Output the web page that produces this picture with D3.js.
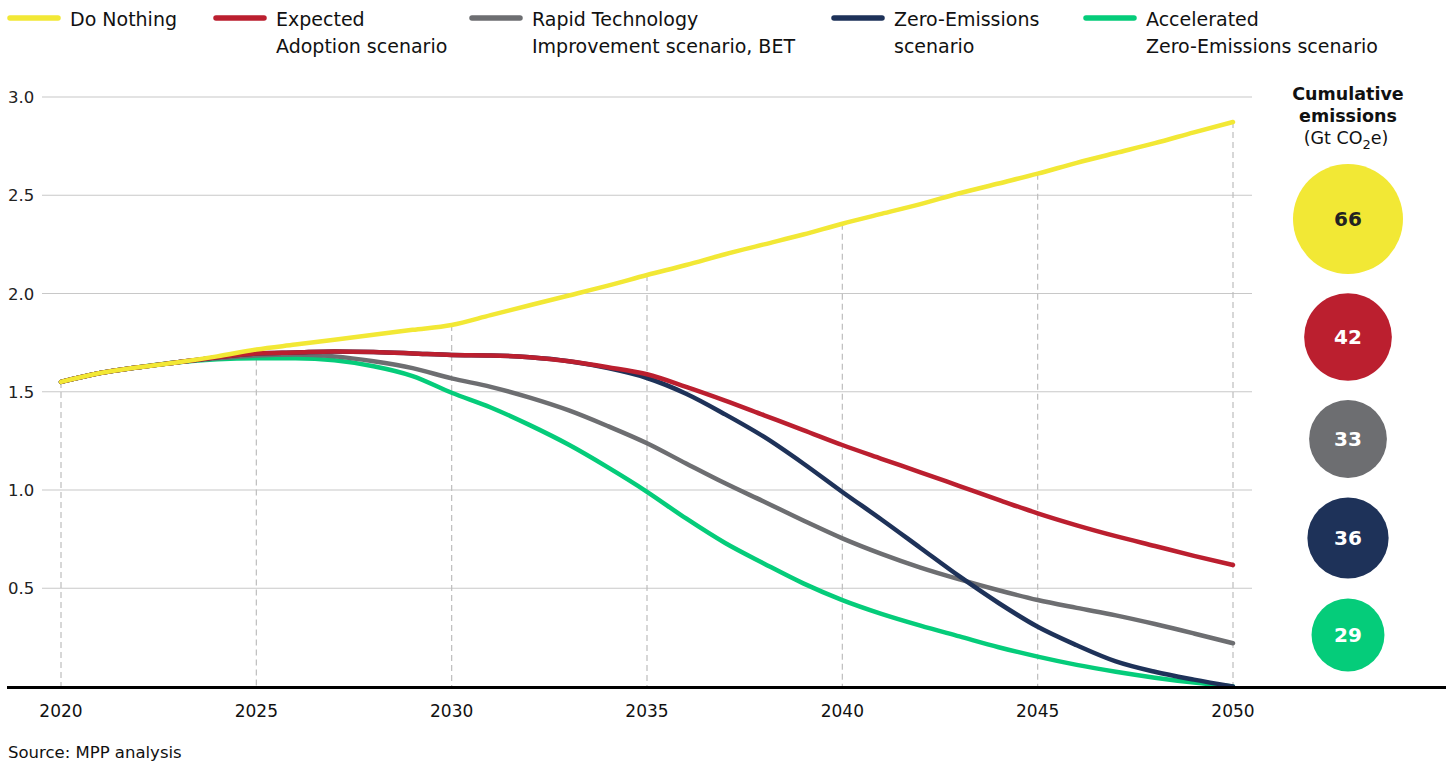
<!DOCTYPE html>
<html>
<head>
<meta charset="utf-8">
<script src="https://cdn.jsdelivr.net/npm/d3@7"></script>
<style>
  body { margin: 0; background: #fff; }
  svg { font-family: 'DejaVu Sans', 'Open Sans', sans-serif; }
</style>
</head>
<body>
<div id="chart"></div>
<script>
// years 2020..2050
var years = d3.range(2020, 2051);

var doNothing = [1.55, 1.595, 1.625, 1.65, 1.68, 1.715, 1.74, 1.765, 1.79, 1.815, 1.84,
  1.89, 1.94, 1.99, 2.04, 2.094, 2.145, 2.20, 2.25, 2.30, 2.355,
  2.405, 2.455, 2.51, 2.56, 2.61, 2.665, 2.715, 2.765, 2.82, 2.873];
var expected = [1.55, 1.595, 1.625, 1.65, 1.675, 1.695, 1.70, 1.705, 1.702, 1.695, 1.687,
  1.685, 1.675, 1.655, 1.625, 1.589, 1.525, 1.455, 1.38, 1.305, 1.229,
  1.159, 1.09, 1.02, 0.95, 0.881, 0.82, 0.765, 0.715, 0.665, 0.618];
var rapidTech = [1.55, 1.595, 1.625, 1.65, 1.67, 1.685, 1.69, 1.68, 1.655, 1.62, 1.568,
  1.525, 1.47, 1.405, 1.325, 1.238, 1.135, 1.034, 0.94, 0.845, 0.754,
  0.675, 0.605, 0.545, 0.49, 0.44, 0.40, 0.362, 0.318, 0.27, 0.22];
var zeroEmissions = [1.55, 1.595, 1.625, 1.65, 1.675, 1.695, 1.70, 1.705, 1.702, 1.695, 1.687,
  1.685, 1.675, 1.655, 1.62, 1.57, 1.49, 1.385, 1.27, 1.135, 0.99,
  0.85, 0.705, 0.56, 0.425, 0.304, 0.21, 0.128, 0.075, 0.035, 0.0];
var accelerated = [1.55, 1.595, 1.625, 1.65, 1.665, 1.67, 1.67, 1.66, 1.63, 1.58, 1.495,
  1.42, 1.33, 1.23, 1.115, 0.991, 0.855, 0.73, 0.625, 0.525, 0.44,
  0.37, 0.31, 0.255, 0.2, 0.152, 0.11, 0.075, 0.045, 0.02, 0.0];

var seriesNames = ['Do Nothing', 'Expected\nAdoption scenario', 'Rapid Technology\nImprovement scenario, BET',
  'Zero-Emissions\nscenario', 'Accelerated\nZero-Emissions scenario'];
var seriesColors = ['#f2e835', '#bb1f2f', '#6d6e71', '#1e3259', '#05cc7a'];
var cumulative = [66, 42, 33, 36, 29];

var yTicks = [0.5, 1.0, 1.5, 2.0, 2.5, 3.0];
var xTicks = [2020, 2025, 2030, 2035, 2040, 2045, 2050];

var series = [doNothing, expected, rapidTech, zeroEmissions, accelerated];

var width = 1454, height = 763;

var svg = d3.select('#chart').append('svg')
    .attr('width', width)
    .attr('height', height);

var xScale = d3.scaleLinear().domain([2020, 2050]).range([61, 1233]);
var yScale = d3.scaleLinear().domain([0, 3]).range([686.5, 97]);

// gridlines
svg.append('g').selectAll('line')
    .data(yTicks)
  .enter().append('line')
    .attr('x1', 42).attr('x2', 1252)
    .attr('y1', function(d) { return yScale(d); })
    .attr('y2', function(d) { return yScale(d); })
    .attr('stroke', '#c8c8c8')
    .attr('stroke-width', 1.2);

svg.append('g').selectAll('text')
    .data(yTicks)
  .enter().append('text')
    .attr('x', 8)
    .attr('y', function(d) { return yScale(d) + 6; })
    .attr('font-size', '16.5px')
    .attr('fill', '#222')
    .text(function(d) { return d3.format('.1f')(d); });

// dashed verticals from Do Nothing line down to axis
svg.append('g').selectAll('line')
    .data(xTicks)
  .enter().append('line')
    .attr('x1', function(d) { return xScale(d); })
    .attr('x2', function(d) { return xScale(d); })
    .attr('y1', function(d) { return yScale(doNothing[years.indexOf(d)]); })
    .attr('y2', yScale(0))
    .attr('stroke', '#bdbdbd')
    .attr('stroke-width', 1.2)
    .attr('stroke-dasharray', '6,4');

var line = d3.line()
    .x(function(d, i) { return xScale(years[i]); })
    .y(function(d) { return yScale(d); })
    .curve(d3.curveMonotoneX);

// draw order: lowest first so yellow is on top
var order = [4, 2, 3, 1, 0];
svg.append('g').selectAll('path')
    .data(order)
  .enter().append('path')
    .attr('d', function(k) { return line(series[k]); })
    .attr('fill', 'none')
    .attr('stroke', function(k) { return seriesColors[k]; })
    .attr('stroke-width', 4.5)
    .attr('stroke-linecap', 'round')
    .attr('stroke-linejoin', 'round');

// x axis baseline
svg.append('line')
    .attr('x1', 7).attr('x2', 1446)
    .attr('y1', yScale(0) + 1).attr('y2', yScale(0) + 1)
    .attr('stroke', '#000')
    .attr('stroke-width', 3);

svg.append('g').selectAll('text')
    .data(xTicks)
  .enter().append('text')
    .attr('x', function(d) { return xScale(d); })
    .attr('y', 717)
    .attr('text-anchor', 'middle')
    .attr('font-size', '17px')
    .attr('fill', '#111')
    .text(function(d) { return d; });

// legend
var legendX = [8, 214, 470, 832, 1084];
var legend = svg.selectAll('.legend')
    .data(seriesNames)
  .enter().append('g')
    .attr('class', 'legend')
    .attr('transform', function(d, i) { return 'translate(' + legendX[i] + ',0)'; });

legend.append('line')
    .attr('x1', 2).attr('x2', 50)
    .attr('y1', 18).attr('y2', 18)
    .attr('stroke', function(d, i) { return seriesColors[i]; })
    .attr('stroke-width', 5.5)
    .attr('stroke-linecap', 'round');

legend.append('text')
    .attr('font-size', '19px')
    .attr('fill', '#111')
    .selectAll('tspan')
    .data(function(d) { return d.split('\n'); })
  .enter().append('tspan')
    .attr('x', 62)
    .attr('y', function(d, i) { return 26 + i * 27; })
    .text(function(d) { return d; });

// cumulative emissions bubbles
var bubbleX = 1348;
var bubbleY = [219, 337, 439, 538, 635];
var rScale = d3.scaleSqrt().domain([0, 66]).range([0, 55]);

var title = svg.append('text')
    .attr('text-anchor', 'middle')
    .attr('font-size', '17.5px')
    .attr('fill', '#111');
title.append('tspan').attr('x', bubbleX).attr('y', 100).attr('font-weight', 'bold').text('Cumulative');
title.append('tspan').attr('x', bubbleX).attr('y', 122).attr('font-weight', 'bold').text('emissions');
title.append('tspan').attr('x', bubbleX - 2).attr('y', 144).text('(Gt CO');
title.append('tspan').attr('dy', 5).attr('font-size', '13px').text('2');
title.append('tspan').attr('dy', -5).text('e)');

var bubbles = svg.selectAll('.bubble')
    .data(cumulative)
  .enter().append('g')
    .attr('class', 'bubble')
    .attr('transform', function(d, i) { return 'translate(' + bubbleX + ',' + bubbleY[i] + ')'; });

bubbles.append('circle')
    .attr('r', function(d) { return rScale(d); })
    .attr('fill', function(d, i) { return seriesColors[i]; });

bubbles.append('text')
    .attr('text-anchor', 'middle')
    .attr('dy', '.36em')
    .attr('font-size', '20px')
    .attr('font-weight', 'bold')
    .attr('fill', function(d, i) { return i === 0 ? '#222' : '#fff'; })
    .text(function(d) { return d; });

svg.append('text')
    .attr('x', 8)
    .attr('y', 758)
    .attr('font-size', '16.5px')
    .attr('fill', '#111')
    .text('Source: MPP analysis');
</script>
</body>
</html>
